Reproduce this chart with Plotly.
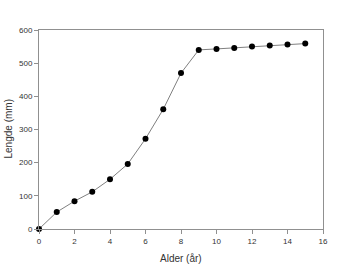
import plotly.graph_objects as go

alder = [0, 1, 2, 3, 4, 5, 6, 7, 8, 9, 10, 11, 12, 13, 14, 15]
lengde = [0, 51, 84, 112, 150, 196, 272, 361, 470, 540, 543, 546, 550, 553, 556, 559]

FONT = "Liberation Sans, Arial"
TXT = "#333333"

fig = go.Figure()
fig.add_trace(go.Scatter(
    x=alder, y=lengde, mode="lines+markers",
    line=dict(color="#808080", width=1),
    marker=dict(color="black", size=6),
    cliponaxis=False, showlegend=False,
))

axis_common = dict(
    showgrid=False, zeroline=False, showline=True, linecolor="#909090", linewidth=1,
    mirror=True, ticks="outside", ticklen=4, tickcolor="#909090", automargin=False,
    tickfont=dict(family=FONT, size=8, color=TXT),
)
fig.update_xaxes(range=[0, 16], tick0=0, dtick=2, **axis_common)
fig.update_yaxes(range=[0, 600], tick0=0, dtick=100, **axis_common)
fig.update_layout(
    width=350, height=264,
    margin=dict(l=39, r=27, t=30, b=35),
    paper_bgcolor="white", plot_bgcolor="white",
    annotations=[
        dict(text="Alder (år)", xref="paper", yref="paper", x=0.5, y=0,
             yshift=-29, xanchor="center", yanchor="middle", showarrow=False,
             font=dict(family=FONT, size=10, color=TXT)),
        dict(text="Lengde (mm)", xref="paper", yref="paper", x=0, y=0.5,
             xshift=-31, xanchor="center", yanchor="middle", textangle=-90, showarrow=False,
             font=dict(family=FONT, size=10, color=TXT)),
    ],
)
fig.write_html("out.html")
